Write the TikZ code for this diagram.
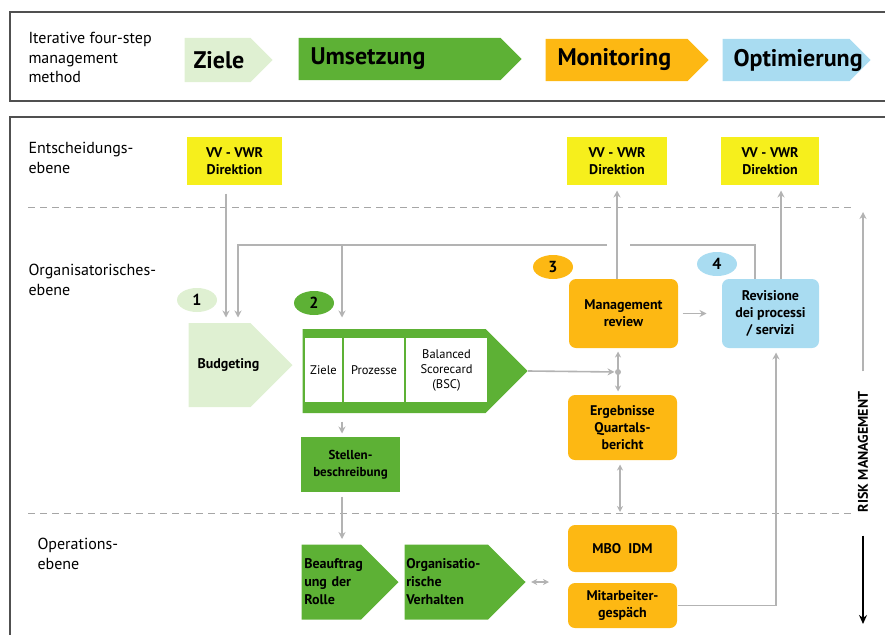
\documentclass[tikz,border=0pt]{standalone}
\usepackage{fontspec}
\setmainfont{PT Sans}
\usetikzlibrary{shapes.symbols,shapes.geometric,arrows.meta}

\definecolor{lightgreen}{HTML}{DFF0D2}
\definecolor{darkgreen}{HTML}{5DB135}
\definecolor{amber}{HTML}{FDB813}
\definecolor{lightblue}{HTML}{A9DCF1}
\definecolor{boardyellow}{HTML}{F6EF1C}
\definecolor{linegray}{HTML}{B3B3B3}
\definecolor{framegray}{HTML}{505050}

\begin{document}
\begin{tikzpicture}[x = 1pt, y = -1pt, line width = 1pt,
                    phase/.style = {signal, signal to = east, signal pointer angle = 90, anchor = west,
                                    inner sep = 0pt, minimum height = 42},
                    phase text/.style = {anchor = west, inner sep = 0pt, font = \fontsize{24}{26}\selectfont\bfseries},
                    stepbox/.style = {signal, signal to = east, signal pointer angle = 90, anchor = west,
                                      inner sep = 0pt, font = \fontsize{14}{18}\selectfont\bfseries},
                    cell/.style = {rectangle, fill = white, inner sep = 0pt, minimum height = 64, align = center,
                                   font = \fontsize{12.5}{15}\selectfont},
                    greenbox/.style = {rectangle, fill = darkgreen, align = center,
                                       font = \fontsize{13}{17}\selectfont\bfseries},
                    board/.style = {rectangle, fill = boardyellow, minimum height = 48, align = center,
                                    font = \fontsize{14}{17}\selectfont\bfseries},
                    task/.style = {rectangle, rounded corners = 7pt, minimum width = 109, align = center,
                                   font = \fontsize{14}{17}\selectfont\bfseries},
                    num/.style = {ellipse, minimum width = 40, minimum height = 24, inner sep = 0pt,
                                  font = \fontsize{16}{16}\selectfont\bfseries},
                    level/.style = {anchor = north west, align = left, inner sep = 0pt,
                                    font = \fontsize{16}{19.5}\selectfont},
                    line/.style = {draw = linegray, line width = 1.6pt},
                    flow/.style = {line, -{Stealth[length = 7pt, width = 7pt]}},
                    both/.style = {line, {Stealth[length = 6pt, width = 6pt]}-{Stealth[length = 6pt, width = 6pt]}},
                    level line/.style = {draw = gray!70, line width = 1pt, dash pattern = on 7pt off 5pt}]
  \useasboundingbox (0, 0) rectangle (885, 634);

  % frames
  \draw [framegray, line width = 1.3pt] (10, 12) rectangle (895, 101);
  \draw [framegray, line width = 1.3pt] (10, 117) rectangle (895, 650);

  % four steps
  \node [level] (head) at (28, 32) {Iterative four-step\\management\\method};
  \node [phase, fill = lightgreen, minimum width = 88, minimum height = 44] (P1) at (184, 60) {};
  \node [phase, fill = darkgreen, minimum width = 223] (P2) at (298, 59) {};
  \node [phase, fill = amber, minimum width = 163] (P3) at (545, 60) {};
  \node [phase, fill = lightblue, minimum width = 148] (P4) at (722, 60) {};
  \node [phase text] (T1) at ([xshift = 9]P1.west) {Ziele};
  \node [phase text] (T2) at ([xshift = 12]P2.west) {Umsetzung};
  \node [phase text] (T3) at ([xshift = 12]P3.west) {Monitoring};
  \node [phase text] (T4) at ([xshift = 11]P4.west) {Optimierung};

  % levels
  \node [level] (L1) at (28, 142) {Entscheidungs-\\ebene};
  \node [level] (L2) at (28, 264) {Organisatorisches-\\ebene};
  \node [level] (L3) at (37, 538) {Operations-\\ebene};

  \node [board, minimum width = 95] (D1) at (234.5, 161) {VV - VWR\\Direktion};
  \node [board, minimum width = 100] (D2) at (617, 161) {VV - VWR\\Direktion};
  \node [board, minimum width = 98] (D3) at (770, 161) {VV - VWR\\Direktion};

  \node [num, fill = lightgreen] (N1) at (197, 300) {1};
  \node [num, fill = darkgreen] (N2) at (314, 303) {2};
  \node [num, fill = amber] (N3) at (553, 267) {3};
  \node [num, fill = lightblue] (N4) at (717, 264) {4};

  \node [stepbox, fill = lightgreen, minimum width = 104, minimum height = 84] (B) at (188, 365) {\makebox[60pt][l]{\hspace{8pt}Budgeting}};
  \node [stepbox, fill = darkgreen, minimum width = 225, minimum height = 84] (U) at (302, 371) {};
  \node [cell, minimum width = 37] (U1) at (323.5, 370) {Ziele};
  \node [cell, minimum width = 60] (U2) at (374, 370) {Prozesse};
  \node [cell, minimum width = 81] (U3) at (446.5, 370) {Balanced\\Scorecard\\(BSC)};
  \node [greenbox, minimum width = 99, minimum height = 55] (S) at (350.5, 464.5) {Stellen-\\beschreibung};

  \node [task, fill = amber, minimum height = 69] (MR) at (623.5, 313.5) {Management\\review};
  \node [task, fill = amber, minimum height = 65] (QB) at (622.5, 427.5) {Ergebnisse\\Quartals-\\bericht};
  \node [task, fill = amber, minimum height = 47] (MBO) at (622.5, 548.5) {MBO\enspace IDM};
  \node [task, fill = amber, minimum height = 45] (MG) at (622.5, 605.5) {Mitarbeiter-\\gespäch};
  \node [task, fill = lightblue, minimum width = 97, minimum height = 69] (RV) at (770.5, 313.5) {Revisione\\dei processi\\/ servizi};

  \node [stepbox, fill = darkgreen, minimum width = 97, minimum height = 75, text width = 54, align = left] (BR) at (301, 582) {Beauftrag\\ung der\\Rolle};
  \node [stepbox, fill = darkgreen, minimum width = 121, minimum height = 75, text width = 80, align = left] (OV) at (404, 582) {Organisatio-\\rische\\Verhalten};

  \node [circle, fill = linegray, inner sep = 0pt, minimum size = 6] (J) at (618, 372) {};
  \node [rotate = 90, inner sep = 0pt, font = \fontsize{14}{14}\selectfont\bfseries] (RM) at (863, 452) {RISK MANAGEMENT};

  % level borders
  \draw [level line] (28, 207) -- (852, 207);
  \draw [level line] (28, 513) -- (852, 513);

  % feedback loop
  \coordinate (FR) at (755, 245);
  \coordinate (FX) at (630, 245);
  \coordinate (FY) at (607, 245);
  \coordinate (FL) at (238, 245);
  \coordinate (FU) at (342, 245);
  \draw [line] ([xshift = -15.5]RV.north) -- (FR) -- (FX);
  \draw [flow, shorten >= 5] (FY) -- (FL) -- (FL |- B.north);
  \draw [flow, shorten >= 11] (FU) -- (FU |- U.north);

  \draw [flow, shorten <= 8, shorten >= 5] ([xshift = -8.5]D1.south) -- ([xshift = -8.5]D1.south |- B.north);
  \draw [flow, shorten >= 5] (MR.north -| D2.south) -- (D2.south);
  \draw [flow, shorten >= 5] ([xshift = 10.5]RV.north) -- ([xshift = 10.5]RV.north |- D3.south);
  \draw [flow, shorten <= 4, shorten >= 15] (MR) -- (RV);
  \draw [flow] (U.east) -- (J);
  \draw [both, shorten <= 3, shorten >= 3] (MR.south -| J) -- (QB.north -| J);
  \coordinate (QD) at (620, 512);
  \draw [both, shorten <= 4] (QB.south -| QD) -- (QD);
  \draw [flow, shorten >= 4] (MG.east) -| ([xshift = 5.5]RV.south);
  \draw [flow, shorten <= 8, shorten >= 3] ([xshift = -8.5]S.north |- U.south) -- ([xshift = -8.5]S.north);
  \draw [flow, shorten <= 4, shorten >= 5] ([xshift = -8.5]S.south) -- ([xshift = -8.5]S.south |- BR.north);
  \coordinate (OM) at (549, 582);
  \draw [both, line width = 1.2pt, shorten <= 5] (OV.east) -- (OM);

  % risk management
  \coordinate (RT) at (863, 212);
  \coordinate (RB) at (863, 624);
  \draw [flow, shorten <= 20] (RM.east) -- (RT);
  \draw [black, line width = 1.5pt, -{Stealth[length = 9pt, width = 8pt]}, shorten <= 23] (RM.west) -- (RB);
\end{tikzpicture}
\end{document}
